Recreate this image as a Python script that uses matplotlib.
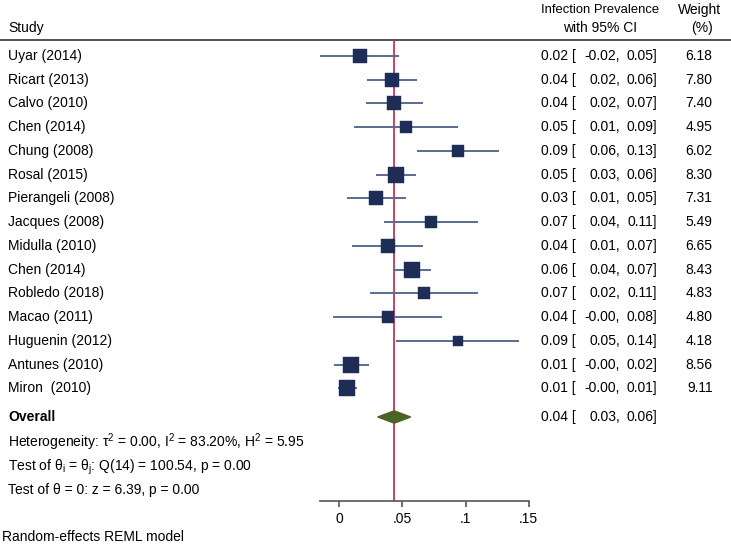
"""Forest plot of infection prevalence (random-effects REML)."""

import numpy as np
import matplotlib.pyplot as plt
import matplotlib.transforms as mtransforms
from matplotlib.patches import Polygon

# ---------------------------------------------------------------------------
# Data
# ---------------------------------------------------------------------------

STUDIES = [
    "Uyar (2014)", "Ricart (2013)", "Calvo (2010)", "Chen (2014)", "Chung (2008)",
    "Rosal (2015)", "Pierangeli (2008)", "Jacques (2008)", "Midulla (2010)",
    "Chen (2014)", "Robledo (2018)", "Macao (2011)", "Huguenin (2012)",
    "Antunes (2010)", "Miron  (2010)",
]
ESTIMATE = [0.0164, 0.0417, 0.0435, 0.0528, 0.0937, 0.0451, 0.0293, 0.0726,
            0.0383, 0.0578, 0.0668, 0.0383, 0.0937, 0.0095, 0.0063]
CI_LOW = [-0.0153, 0.0222, 0.0211, 0.0114, 0.0613, 0.0293, 0.0059, 0.0356,
          0.0103, 0.0433, 0.0243, -0.0048, 0.0452, -0.0040, -0.0010]
CI_HIGH = [0.0475, 0.0618, 0.0665, 0.0942, 0.1264, 0.0610, 0.0528, 0.1096,
           0.0665, 0.0724, 0.1096, 0.0813, 0.1425, 0.0233, 0.0138]
WEIGHT = [6.18, 7.80, 7.40, 4.95, 6.02, 8.30, 7.31, 5.49, 6.65, 8.43,
          4.83, 4.80, 4.18, 8.56, 9.11]

OVERALL = (0.0435, 0.0304, 0.0565)
XTICKS = [0, 0.05, 0.10, 0.15]
XTICK_LABELS = ["0", ".05", ".1", ".15"]

STATS_LINES = [
    r"Heterogeneity: τ$^\mathregular{2}$ = 0.00, I$^\mathregular{2}$ = 83.20%, H$^\mathregular{2}$ = 5.95",
    r"Test of θ$_\mathregular{i}$ = θ$_\mathregular{j}$: Q(14) = 100.54, p = 0.00",
    "Test of θ = 0: z = 6.39, p = 0.00",
]

# ---------------------------------------------------------------------------
# Layout (pixel geometry of the 731x545 canvas)
# ---------------------------------------------------------------------------

W, H = 731, 545
X0_PX, PX_PER_UNIT = 339.3, 1263.0
Y0_PX, ROW_PX = 55.8, 23.75

SQUARE_C = "#1e2d55"
LINE_C = "#5b6b8c"
DIAMOND_C = "#4a6424"
REF_C = "#c4355c"
FS = 10


def row(py):
    return (py - Y0_PX) / ROW_PX


def fx(px):
    return px / W


plt.rcParams["font.family"] = ["Liberation Sans", "DejaVu Sans"]

fig = plt.figure(figsize=(W / 100, H / 100), dpi=100)
ax = fig.add_axes([0, 0, 1, 1])
ax.set_xlim(-X0_PX / PX_PER_UNIT, (W - X0_PX) / PX_PER_UNIT)
ax.set_ylim(row(H), row(0))
tr = mtransforms.blended_transform_factory(ax.transAxes, ax.transData)


def ci_text(y, est, lo, hi):
    ax.text(fx(541), y, f"{est:.2f} [", transform=tr, fontsize=FS, va="center", ha="left")
    ax.text(fx(620), y, f"{lo:.2f},", transform=tr, fontsize=FS, va="center", ha="right")
    ax.text(fx(657), y, f"{hi:.2f}]", transform=tr, fontsize=FS, va="center", ha="right")


# header
ax.text(fx(8), row(28), "Study", transform=tr, fontsize=FS, va="center", ha="left")
ax.text(fx(600), row(10), "Infection Prevalence", transform=tr, fontsize=9.4, va="center", ha="center")
ax.text(fx(600), row(28), "with 95% CI", transform=tr, fontsize=FS, va="center", ha="center")
ax.text(fx(700), row(10), "Weight", transform=tr, fontsize=FS, va="center", ha="center")
ax.text(fx(702), row(28), "(%)", transform=tr, fontsize=FS, va="center", ha="center")
ax.axhline(row(40), color="#333333", lw=1.2)

# reference line at overall estimate
axis_row = row(501)
ax.vlines(OVERALL[0], row(40), axis_row, color=REF_C, lw=1.3, zorder=2)

# studies
for i, name in enumerate(STUDIES):
    y = i
    ax.hlines(y, CI_LOW[i], CI_HIGH[i], color=LINE_C, lw=1.4, zorder=3)
    ax.plot(ESTIMATE[i], y, "s", ms=3.78 * np.sqrt(WEIGHT[i]), color=SQUARE_C,
            mec=SQUARE_C, mew=0.3, zorder=4)
    ax.text(fx(8), y, name, transform=tr, fontsize=FS, va="center", ha="left")
    ci_text(y, ESTIMATE[i], CI_LOW[i], CI_HIGH[i])
    ax.text(fx(712.5), y, f"{WEIGHT[i]:.2f}", transform=tr, fontsize=FS, va="center", ha="right")

# overall diamond
yo = row(417)
est, lo, hi = OVERALL
diamond = Polygon([(lo, yo), (est, yo - 0.26), (hi, yo), (est, yo + 0.26)],
                  closed=True, color=DIAMOND_C, zorder=4)
ax.add_patch(diamond)
ax.text(fx(8), yo, "Overall", transform=tr, fontsize=FS, va="center", ha="left", fontweight="bold")
ci_text(yo, est, lo, hi)

for k, line in enumerate(STATS_LINES):
    ax.text(fx(8), row(447 + 23.5 * k), line, transform=tr, fontsize=FS,
            va="baseline", ha="left")

ax.text(fx(2), row(537), "Random-effects REML model", transform=tr, fontsize=FS,
        va="center", ha="left")

# x axis
for side in ("top", "left", "right"):
    ax.spines[side].set_visible(False)
ax.spines["bottom"].set_position(("data", axis_row))
ax.spines["bottom"].set_bounds(min(CI_LOW), 0.15)
ax.spines["bottom"].set_color("#555555")
ax.spines["bottom"].set_linewidth(1.2)
ax.set_xticks(XTICKS)
ax.set_xticklabels(XTICK_LABELS, fontsize=FS)
ax.tick_params(axis="x", direction="out", length=4, width=1.2, color="#555555", pad=4)
ax.set_yticks([])

fig.savefig("out.png", dpi=100)
